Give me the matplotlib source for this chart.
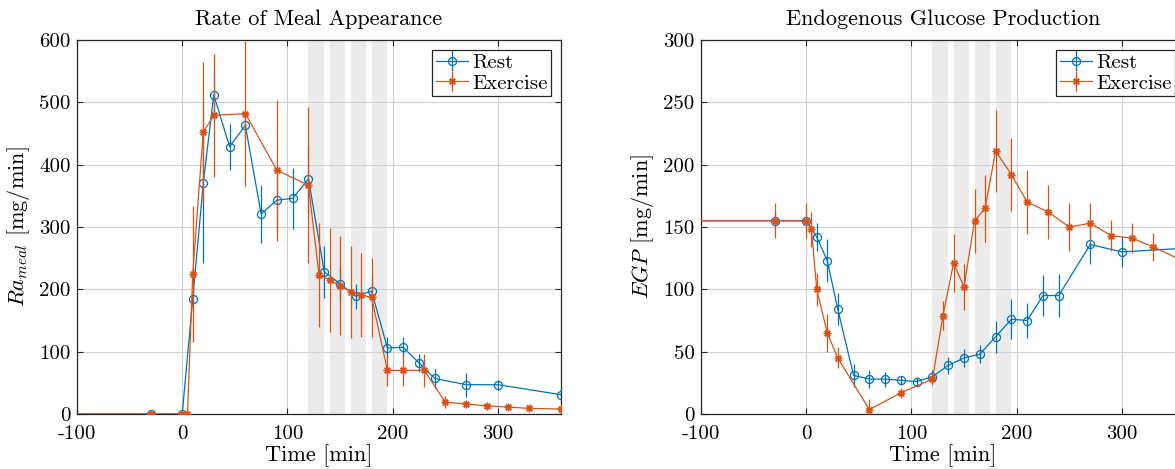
import matplotlib
matplotlib.use("Agg")
import matplotlib.pyplot as plt
import numpy as np

plt.rcParams['font.family'] = ['cmr10', 'DejaVu Serif']
plt.rcParams['mathtext.fontset'] = 'cm'
plt.rcParams['axes.unicode_minus'] = False

# ---------------- data ----------------
# Rate of meal appearance
ra_rest_t = [-100, -30, 0, 10, 20, 30, 45, 60, 75, 90, 105, 120, 135, 150, 165, 180, 195, 210, 225, 240, 270, 300, 360]
ra_rest_v = [0, 0, 0, 185, 370, 512, 429, 463, 321, 343, 346, 377, 228, 209, 189, 197, 106, 107, 82, 57, 47, 47, 31]
ra_rest_e = [0, 0, 0, 20, 127, 39, 37, 20, 47, 49, 49, 54, 42, 30, 20, 23, 18, 16, 15, 15, 19, 8, 11]

ra_ex_t = [-100, -30, 0, 5, 10, 20, 30, 60, 90, 120, 130, 140, 150, 160, 170, 180, 195, 210, 230, 250, 270, 290, 310, 330, 360]
ra_ex_v = [0, 0, 0, 0, 225, 452, 479, 482, 391, 367, 223, 215, 206, 196, 191, 187, 70, 70, 70, 19, 16, 13, 11, 9, 8]
ra_ex_e = [0, 0, 0, 0, 109, 113, 98, 116, 113, 125, 84, 83, 79, 74, 68, 64, 25, 25, 26, 10, 5, 4, 3, 3, 3]

# Endogenous glucose production
egp_rest_t = [-100, -30, 0, 10, 20, 30, 45, 60, 75, 90, 105, 120, 135, 150, 165, 180, 195, 210, 225, 240, 270, 300, 360]
egp_rest_v = [155, 155, 155, 142, 123, 84, 31, 28, 28, 27, 26, 30, 39, 45, 48, 62, 76, 75, 95, 95, 136, 130, 133]
egp_rest_e = [0, 7, 0, 11, 17, 13, 9, 7.5, 6, 3.5, 4, 5, 7, 7, 7, 13, 16, 14, 16.5, 17.5, 16, 12, 10]

egp_ex_t = [-100, -30, 0, 5, 10, 20, 30, 60, 90, 120, 130, 140, 150, 160, 170, 180, 195, 210, 230, 250, 270, 290, 310, 330, 360]
egp_ex_v = [155, 155, 155, 148, 100, 65, 45, 3.5, 17, 28, 79, 121, 102, 155, 165, 211, 192, 170, 162, 150, 153, 143, 141, 134, 122]
egp_ex_e = [0, 14, 14, 14, 13.5, 15.5, 8.5, 8.5, 4, 4.5, 12, 23, 18.5, 25.5, 27, 33, 29, 25.5, 22, 19, 16, 12.5, 12, 11, 10]

exercise_bouts = [(120, 135), (140, 155), (160, 175), (180, 195)]

x_ticks = [-100, 0, 100, 200, 300]
x_ticklabels = ['-100', '0', '100', '200', '300']
ra_yticks = [0, 100, 200, 300, 400, 500, 600]
egp_yticks = [0, 50, 100, 150, 200, 250, 300]

BLUE = '#0072BD'
ORANGE = '#D95319'
ASTERISK = (8, 2, 0)

fig = plt.figure(figsize=(11.75, 4.69), dpi=100)
ax1 = fig.add_axes([77/1175, 55/469, 484/1175, 374/469])
ax2 = fig.add_axes([701/1175, 55/469, 484/1175, 374/469])


def panel(ax, rt, rv, re, et, ev, ee, yticks, title, ylabel):
    for a, b in exercise_bouts:
        ax.axvspan(a, b, color='#EBEBEB', lw=0, zorder=0)
    ax.errorbar(rt, rv, yerr=re, color=BLUE, marker='o', mfc='none', ms=5.8,
                mew=0.9, lw=0.9, elinewidth=0.9, capsize=0, markevery=slice(1, None),
                label='Rest', zorder=3)
    ax.errorbar(et, ev, yerr=ee, color=ORANGE, marker=ASTERISK, ms=5.5,
                mew=1.0, lw=0.9, elinewidth=0.9, capsize=0, markevery=slice(1, None),
                label='Exercise', zorder=4)
    ax.set_xlim(-100, 360)
    ax.set_ylim(yticks[0], yticks[-1])
    ax.set_xticks(x_ticks)
    ax.set_xticklabels(x_ticklabels)
    ax.set_yticks(yticks)
    ax.set_yticklabels([str(v) for v in yticks])
    ax.grid(True, color='#D0D0D0', lw=0.8, zorder=1)
    ax.set_axisbelow(True)
    ax.tick_params(direction='in', top=True, right=True, labelsize=15, length=4,
                   width=0.8, color='#262626')
    ax.tick_params(axis='x', pad=8)
    ax.tick_params(axis='y', pad=4.5)
    for s in ax.spines.values():
        s.set_color('#262626')
        s.set_linewidth(0.9)
    ax.set_title(title, fontsize=16, pad=10.5)
    ax.set_xlabel('Time [min]', fontsize=16, labelpad=1)
    ax.set_ylabel(ylabel, fontsize=16, labelpad=5)
    leg = ax.legend(loc='upper right', fontsize=15, fancybox=False, framealpha=1,
                    edgecolor='#262626', borderpad=0.15, handlelength=1.55,
                    handletextpad=0.2, labelspacing=0.1, borderaxespad=0.5)
    leg.get_frame().set_linewidth(0.9)


panel(ax1, ra_rest_t, ra_rest_v, ra_rest_e, ra_ex_t, ra_ex_v, ra_ex_e,
      ra_yticks, 'Rate of Meal Appearance', r'$Ra_{meal}$ [mg/min]')
panel(ax2, egp_rest_t, egp_rest_v, egp_rest_e, egp_ex_t, egp_ex_v, egp_ex_e,
      egp_yticks, 'Endogenous Glucose Production', r'$EGP$ [mg/min]')

fig.savefig('out.png', dpi=100)
